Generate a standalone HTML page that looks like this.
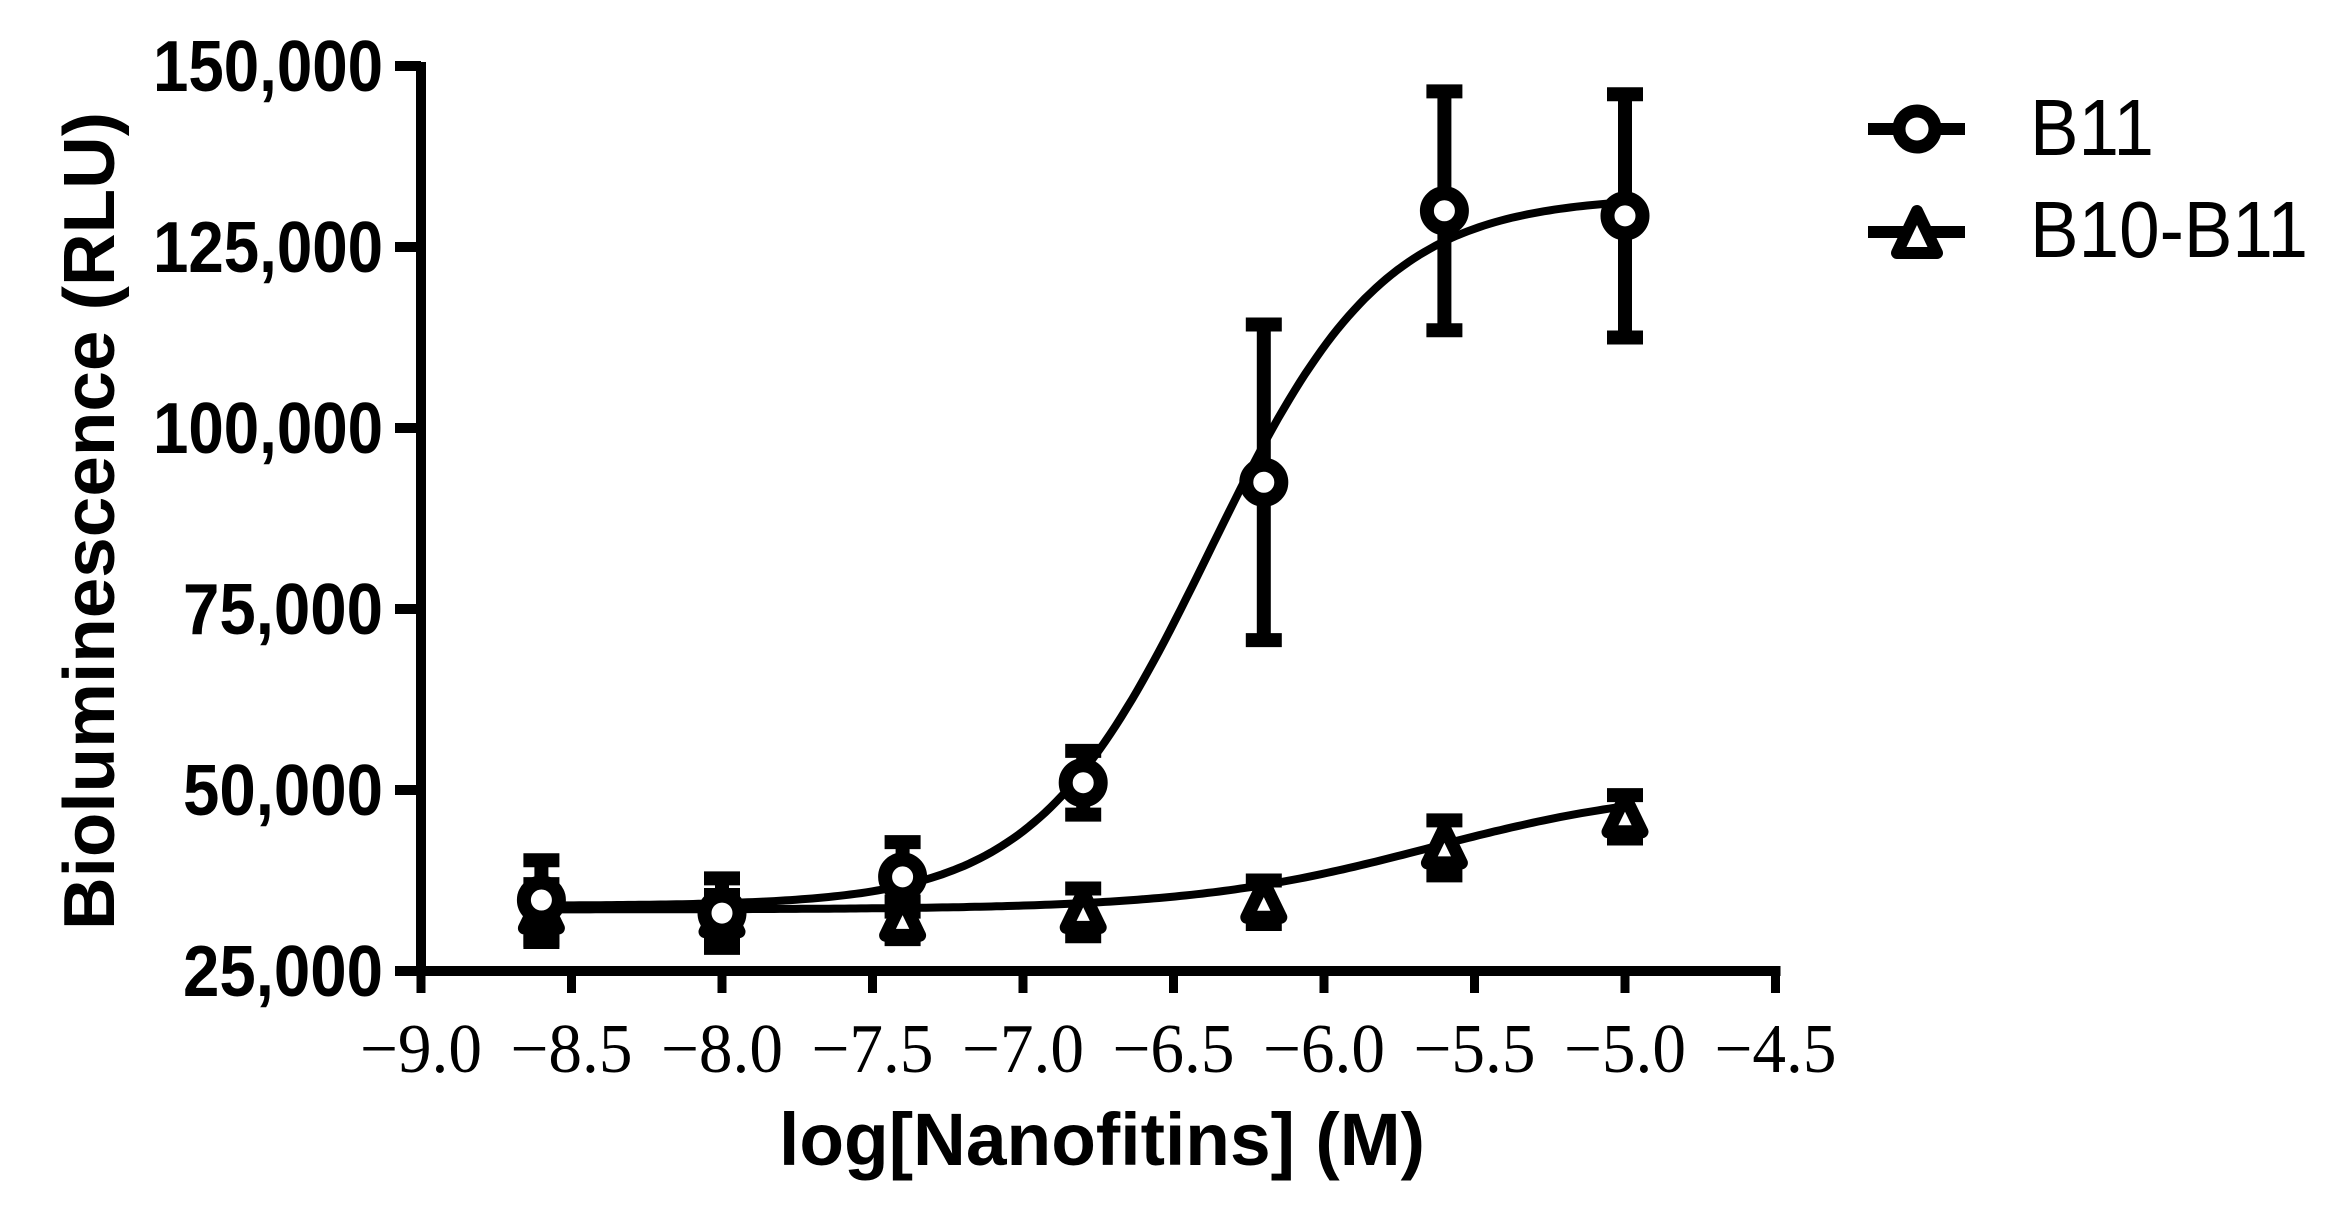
<!DOCTYPE html>
<html><head><meta charset="utf-8"><style>
html,body{margin:0;padding:0;background:#fff;}
svg{display:block;}
</style></head><body>
<svg id="chart" width="2327" height="1226" viewBox="0 0 2327 1226" xmlns="http://www.w3.org/2000/svg">
<g id="axes"></g>
<g id="series"></g>
<text transform="translate(114,521) rotate(-90)" text-anchor="middle" font-family="Liberation Sans, sans-serif" font-weight="bold" font-size="72" textLength="818" lengthAdjust="spacingAndGlyphs">Bioluminescence (RLU)</text>
<text x="1102" y="1165" text-anchor="middle" font-family="Liberation Sans, sans-serif" font-weight="bold" font-size="74" textLength="646" lengthAdjust="spacingAndGlyphs">log[Nanofitins] (M)</text>
<g>
<g>
<line x1="1868" y1="129" x2="1965" y2="129" stroke="#000" stroke-width="12"/>
<circle cx="1917" cy="129" r="18" fill="#fff" stroke="#000" stroke-width="13"/>
<text x="2030" y="155" font-family="Liberation Sans, sans-serif" font-size="80" textLength="124" lengthAdjust="spacingAndGlyphs">B11</text>
</g>
<g>
<line x1="1868" y1="232" x2="1965" y2="232" stroke="#000" stroke-width="12"/>
<polygon points="1917,211 1937,253 1897,253" fill="#fff" stroke="#000" stroke-width="12" stroke-linejoin="round"/>
<text x="2030" y="257" font-family="Liberation Sans, sans-serif" font-size="80" textLength="278" lengthAdjust="spacingAndGlyphs">B10-B11</text>
</g>
</g>
</svg>
<script>
const xTicks = [-9.0,-8.5,-8.0,-7.5,-7.0,-6.5,-6.0,-5.5,-5.0,-4.5];
const yTicks = [25000,50000,75000,100000,125000,150000];
const yTickLabels = ["25,000","50,000","75,000","100,000","125,000","150,000"];
const logConc = [-8.6,-8.0,-7.4,-6.8,-6.2,-5.6,-5.0];
const b11Mean = [34800,33000,38000,51000,92500,130000,129300];
const b11Err = [5500,4800,4800,4400,21800,16500,16800];
const b10Mean = [33000,32500,32000,33100,34500,42000,46300];
const b10Err = [4000,3000,2600,3300,3000,3800,3000];
// 4-parameter logistic fit parameters: bottom, top, logEC50, hill
const b11Fit = [34000,132000,-6.38,1.5];
const b10Fit = [33500,50500,-5.65,1.1];

const NS="http://www.w3.org/2000/svg";
const X0=421, XU=301, Y0=971, YU=181/25000;
function xs(v){return X0+(v+9)*XU;}
function ys(v){return Y0-(v-25000)*YU;}
function mk(tag,attrs,parent){const e=document.createElementNS(NS,tag);for(const k in attrs)e.setAttribute(k,attrs[k]);parent.appendChild(e);return e;}

const axes=document.getElementById('axes');
let a=mk('line',{x1:X0,y1:ys(150000)-4,x2:X0,y2:Y0+5,stroke:'#000','stroke-width':10},axes);


a=mk('line',{x1:X0-5,y1:Y0,x2:xs(-4.5)+5,y2:Y0,stroke:'#000','stroke-width':10},axes);


xTicks.forEach((t,i)=>{
  const l=mk('line',{x1:xs(t),y1:Y0,x2:xs(t),y2:993,stroke:'#000','stroke-width':9},axes);
  
  
  const tx=mk('text',{x:xs(t),y:1072,'text-anchor':'middle','font-family':'Liberation Serif, serif','font-size':70,textLength:122,lengthAdjust:'spacingAndGlyphs'},axes);
  tx.textContent='\u2212'+Math.abs(t).toFixed(1);
  
  
});
yTicks.forEach((t,i)=>{
  const l=mk('line',{x1:395,y1:ys(t),x2:X0,y2:ys(t),stroke:'#000','stroke-width':10},axes);
  
  
  const tx=mk('text',{x:383,y:ys(t)+25,'text-anchor':'end','font-family':'Liberation Sans, sans-serif','font-weight':'bold','font-size':72,textLength:yTickLabels[i].length>6?230:200,lengthAdjust:'spacingAndGlyphs'},axes);
  tx.textContent=yTickLabels[i];
  
  
});

const ser=document.getElementById('series');
function curve(fit,name){
  const [b,tp,ec,h]=fit;let d='';
  for(let i=0;i<=200;i++){const x=logConc[0]+(logConc[logConc.length-1]-logConc[0])*i/200;
    const y=b+(tp-b)/(1+Math.pow(10,(ec-x)*h));d+=(i?'L':'M')+xs(x).toFixed(1)+','+ys(y).toFixed(1);}
  const p=mk('path',{d:d,fill:'none',stroke:'#000','stroke-width':8},ser);
  
  
}
function errs(means,errsA,name){
  means.forEach((m,i)=>{
    const g=mk('g',{},ser);
    
    
    const x=xs(logConc[i]),yt=ys(m+errsA[i]),yb=ys(m-errsA[i]);
    mk('line',{x1:x,y1:yt,x2:x,y2:yb,stroke:'#000','stroke-width':14},g);
    mk('line',{x1:x-18,y1:yt,x2:x+18,y2:yt,stroke:'#000','stroke-width':14},g);
    mk('line',{x1:x-18,y1:yb,x2:x+18,y2:yb,stroke:'#000','stroke-width':14},g);
  });
}
curve(b10Fit,'b10-b11-fit-curve');
curve(b11Fit,'b11-fit-curve');
errs(b10Mean,b10Err,'b10-b11-error-bar');
errs(b11Mean,b11Err,'b11-error-bar');
b10Mean.forEach((m,i)=>{
  const x=xs(logConc[i]),y=ys(m);
  const p=mk('polygon',{points:`${x},${y-20} ${x+17},${y+15} ${x-17},${y+15}`,fill:'#fff',stroke:'#000','stroke-width':13,'stroke-linejoin':'round'},ser);
  
  
});
b11Mean.forEach((m,i)=>{
  const c=mk('circle',{cx:xs(logConc[i]),cy:ys(m),r:17.5,fill:'#fff',stroke:'#000','stroke-width':14},ser);
  
  
});
</script>
</body></html>
